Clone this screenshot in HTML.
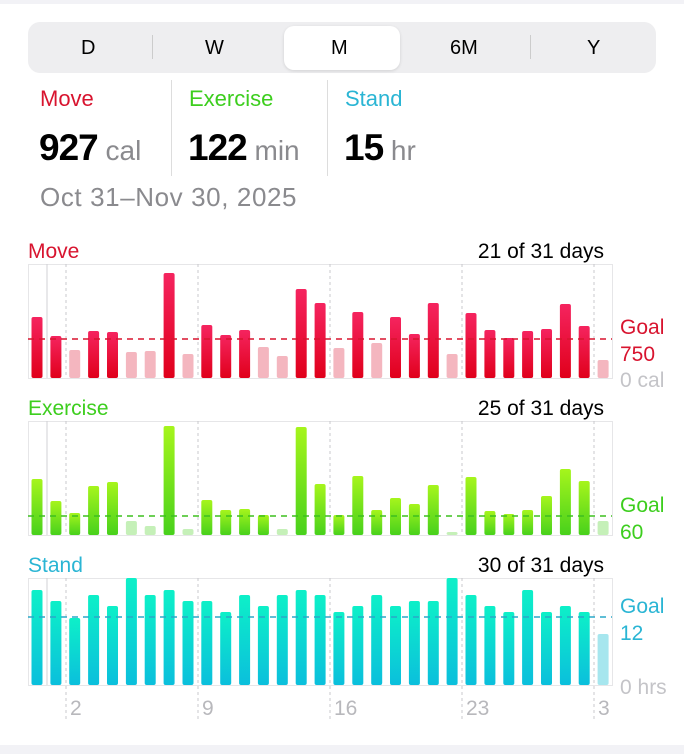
<!DOCTYPE html>
<html><head><meta charset="utf-8"><style>
body{margin:0;width:684px;height:754px;background:#fff;font-family:"Liberation Sans",sans-serif;position:relative;overflow:hidden}
.a{position:absolute;white-space:nowrap}
</style></head><body>
<div class="a" style="left:0;top:0;width:684px;height:4px;background:#f2f2f6"></div>
<div class="a" style="left:28px;top:22px;width:628px;height:51px;background:#eeeef0;border-radius:12px"></div>
<div class="a" style="left:284px;top:26px;width:116px;height:44px;background:#fff;border-radius:10px;box-shadow:0 1px 3px rgba(0,0,0,.12)"></div>
<div class="a" style="left:152px;top:35px;width:1px;height:24px;background:#ccc"></div>
<div class="a" style="left:530px;top:35px;width:1px;height:24px;background:#ccc"></div>
<div class="a" style="left:81px;top:37px;font-size:20px">D</div>
<div class="a" style="left:205px;top:37px;font-size:20px">W</div>
<div class="a" style="left:331px;top:37px;font-size:20px">M</div>
<div class="a" style="left:450px;top:37px;font-size:20px">6M</div>
<div class="a" style="left:587px;top:37px;font-size:20px">Y</div>
<div class="a" style="left:171px;top:80px;width:1px;height:96px;background:#ddd"></div>
<div class="a" style="left:327px;top:80px;width:1px;height:96px;background:#ddd"></div>
<div class="a" style="left:40px;top:86px;font-size:22px;color:#d8142f">Move</div>
<div class="a" style="left:189px;top:86px;font-size:22px;color:#3dce1e">Exercise</div>
<div class="a" style="left:345px;top:86px;font-size:22px;color:#2ab5d4">Stand</div>
<div class="a" style="left:39px;top:127px;font-size:37px;font-weight:bold;color:#000;letter-spacing:-1px">927<span style="font-size:28px;font-weight:normal;color:#8a8a8e;letter-spacing:0"> cal</span></div>
<div class="a" style="left:188px;top:127px;font-size:37px;font-weight:bold;color:#000;letter-spacing:-1px">122<span style="font-size:28px;font-weight:normal;color:#8a8a8e;letter-spacing:0"> min</span></div>
<div class="a" style="left:344px;top:127px;font-size:37px;font-weight:bold;color:#000;letter-spacing:-1px">15<span style="font-size:28px;font-weight:normal;color:#8a8a8e;letter-spacing:0"> hr</span></div>
<div class="a" style="left:40px;top:182px;font-size:26px;color:#8a8a8e;letter-spacing:0.6px">Oct 31–Nov 30, 2025</div>
<div class="a" style="left:0;top:745px;width:684px;height:9px;background:#f2f2f6"></div>
<svg class="a" style="left:0;top:0" width="684" height="754" id="s"></svg>
<script>
var s=document.getElementById('s'),h='';
function t(x,y,str,c,sz,anc){h+='<text x="'+x+'" y="'+y+'" fill="'+c+'" font-size="'+sz+'" text-anchor="'+(anc||'start')+'" font-family="Liberation Sans, sans-serif">'+str+'</text>';}
h+='<defs><linearGradient id="gr" x1="0" y1="0" x2="0" y2="1"><stop offset="0" stop-color="#f5245f"/><stop offset="1" stop-color="#e0001b"/></linearGradient><linearGradient id="gg" x1="0" y1="0" x2="0" y2="1"><stop offset="0" stop-color="#a6f51c"/><stop offset="1" stop-color="#48d11c"/></linearGradient><linearGradient id="gb" x1="0" y1="0" x2="0" y2="1"><stop offset="0" stop-color="#0df0c8"/><stop offset="1" stop-color="#0bbfdc"/></linearGradient></defs>';
var charts=[
{top:264,bot:378,goal:339,fill:'url(#gr)',light:'#f4b6bf',gc:'#d8142f',
v:[317,336,350,331,332,352,351,273,354,325,335,330,347,356,289,303,348,312,343,317,334,303,354,313,330,338,331,329,304,326,360],
l:[3,6,7,9,13,14,17,19,23,31]},
{top:421,bot:535,goal:516,fill:'url(#gg)',light:'#c5f0b8',gc:'#3dbf1e',
v:[479,501,513,486,482,521,526,426,529,500,510,509,515,529,427,484,515,476,510,498,504,485,532,477,511,514,510,496,469,481,521],
l:[6,7,9,14,23,31]},
{top:578,bot:685,goal:617,fill:'url(#gb)',light:'#a6e6ee',gc:'#2aa8c8',
v:[590,601,618,595,606,578,595,590,601,601,612,595,606,595,590,595,612,606,595,606,601,601,578,595,606,612,590,612,606,612,634],
l:[31]}];
charts.forEach(function(c,k){
 h+='<rect x="28.5" y="'+(c.top+.5)+'" width="584" height="'+(c.bot-c.top)+'" fill="none" stroke="#e6e6e8"/>';
 h+='<line x1="47" x2="47" y1="'+c.top+'" y2="'+c.bot+'" stroke="#d0d0d4"/>';
 [66,198,330,462,594].forEach(function(x){h+='<line x1="'+x+'" x2="'+x+'" y1="'+c.top+'" y2="'+(k==2?720:c.bot)+'" stroke="#c8c8cc" stroke-dasharray="3,3"/>';});
 c.v.forEach(function(y,i){var x=37+i*18.87-5.5;var lt=c.l.indexOf(i+1)>=0;
  h+='<rect x="'+x.toFixed(1)+'" y="'+y+'" width="11" height="'+(c.bot-y)+'" rx="2" fill="'+(lt?c.light:c.fill)+'"/>';});
 h+='<line x1="28" x2="612" y1="'+c.goal+'" y2="'+c.goal+'" stroke="'+c.gc+'" stroke-width="1.6" stroke-dasharray="6,5"/>';
});
var F=21;
t(28,258,'Move','#d8142f',F);t(604,258,'21 of 31 days','#000',F,'end');
t(620,334,'Goal','#d8142f',F);t(620,361,'750','#d8142f',F);t(620,387,'0 cal','#c4c4c8',F);
t(28,415,'Exercise','#3dce1e',F);t(604,415,'25 of 31 days','#000',F,'end');
t(620,512,'Goal','#3dce1e',F);t(620,539,'60','#3dce1e',F);
t(28,572,'Stand','#2ab5d4',F);t(604,572,'30 of 31 days','#000',F,'end');
t(620,613,'Goal','#2ab5d4',F);t(620,640,'12','#2ab5d4',F);t(620,694,'0 hrs','#c4c4c8',F);
t(70,715,'2','#b8b8bc',F);t(202,715,'9','#b8b8bc',F);t(334,715,'16','#b8b8bc',F);t(466,715,'23','#b8b8bc',F);t(598,715,'3','#b8b8bc',F);
s.innerHTML=h;
</script>
</body></html>
